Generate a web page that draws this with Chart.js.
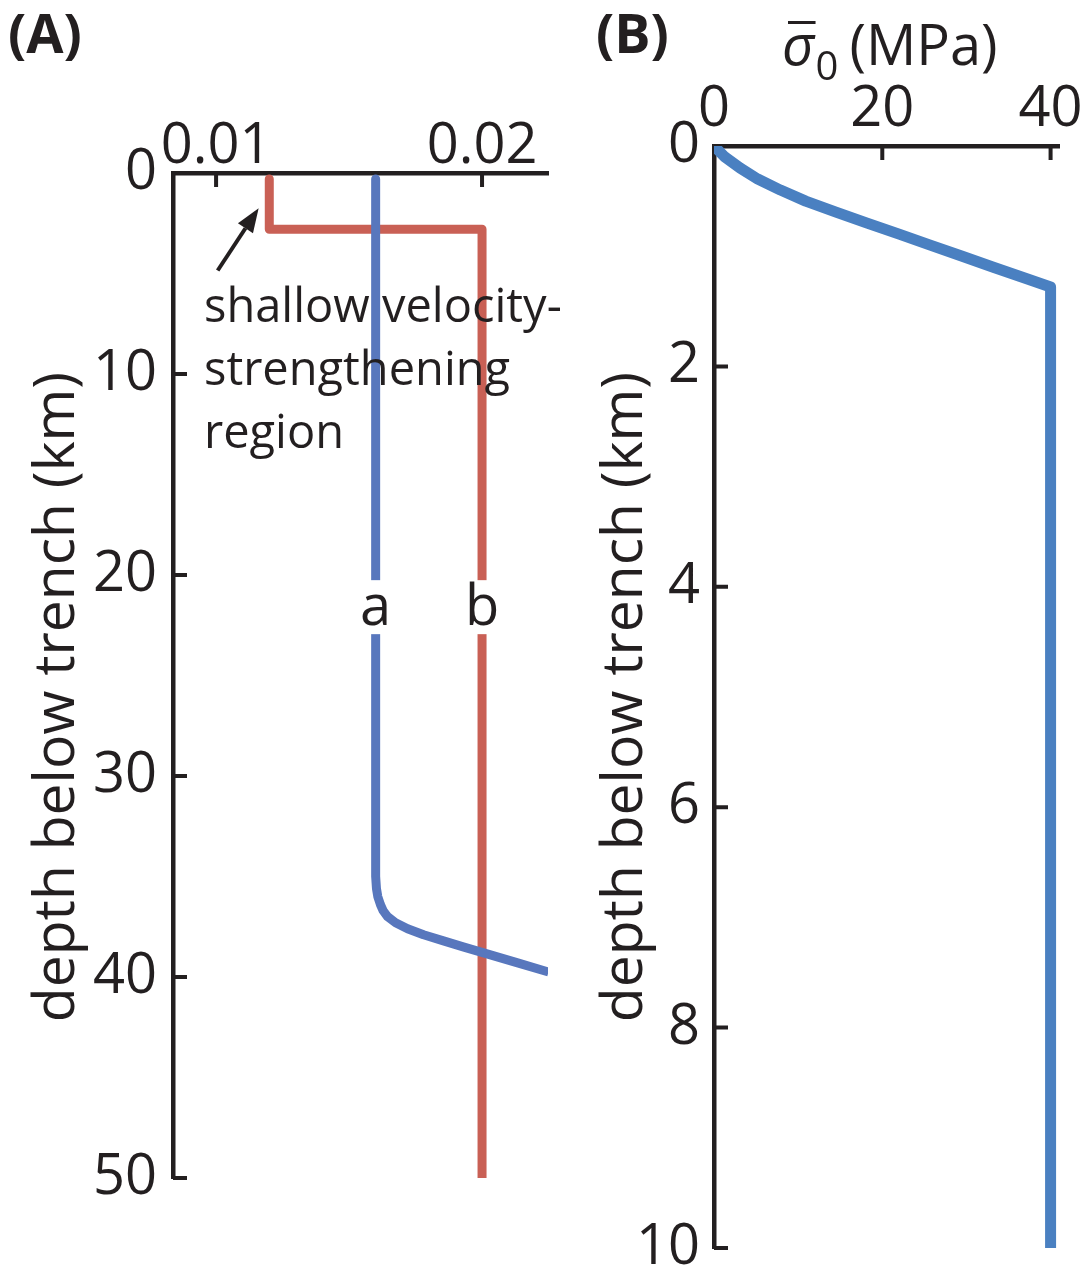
<!DOCTYPE html>
<html>
<head>
<meta charset="utf-8">
<script src="https://cdn.jsdelivr.net/npm/chart.js@4.4.1/dist/chart.umd.min.js"></script>
<style>
  html, body { margin: 0; padding: 0; background: #fff; }
  #wrap { position: relative; width: 1086px; height: 1274px; }
  canvas { position: absolute; top: 0; }
  #chartA { left: 0; }
  #chartB { left: 590px; }
</style>
</head>
<body>
<div id="wrap">
  <canvas id="chartA" width="590" height="1274"></canvas>
  <canvas id="chartB" width="496" height="1274"></canvas>
</div>
<script>
// ---- panel A: rate-and-state parameters a, b against depth (km) ----
const depthA = [0.3, 35.0, 35.6, 36.0, 36.4, 36.7, 37.0, 37.3, 37.6, 37.9, 38.2, 38.5, 38.8, 39.3, 39.75, 40.2];
const paramA = [0.016, 0.016, 0.01603, 0.01608, 0.01618, 0.01628, 0.01645, 0.01675, 0.0172, 0.0178, 0.01855, 0.01929, 0.02006, 0.02134, 0.0225, 0.02366];
const depthB = [0.3, 2.8, 2.8, 50];
const paramB = [0.012, 0.012, 0.020, 0.020];
const ticksAx = [0.01, 0.02];
const ticksAy = [0, 10, 20, 30, 40, 50];

// ---- panel B: effective normal stress (MPa) against depth (km) ----
const depthS = [0, 0.1, 0.2, 0.3, 0.4, 0.5, 0.6, 0.7, 0.8, 0.9, 1.0, 1.1, 1.2, 1.28, 10];
const sigmaS = [0, 1.3, 3.1, 5.2, 7.9, 10.9, 14.5, 18.2, 22.0, 25.7, 29.5, 33.2, 37.0, 40, 40];
const ticksBx = [0, 20, 40];
const ticksBy = [0, 2, 4, 6, 8, 10];

const INK = '#231f20';
const BLUE_A = '#5877bd';
const BLUE_B = '#4a80c1';
const RED = '#c96055';
const FONT = '"Open Sans", "Noto Sans", sans-serif';
const TICK_FONT = { family: FONT, size: 56 };

const toPoints = (xs, ys) => xs.map((v, i) => ({ x: v, y: ys[i] }));

// ticks drawn pointing into the plot area
const inwardTicks = {
  id: 'inwardTicks',
  beforeDatasetsDraw(chart) {
    const { ctx, chartArea: ca, scales: { x, y } } = chart;
    ctx.save();
    ctx.strokeStyle = INK;
    ctx.lineWidth = 4;
    ctx.beginPath();
    x.ticks.forEach(t => {
      const px = x.getPixelForValue(t.value);
      ctx.moveTo(px, ca.top);
      ctx.lineTo(px, ca.top + 14);
    });
    y.ticks.forEach(t => {
      const py = y.getPixelForValue(t.value);
      ctx.moveTo(ca.left, py);
      ctx.lineTo(ca.left + 14, py);
    });
    ctx.stroke();
    ctx.restore();
  }
};

function depthTitle(ctx, cx, cy) {
  ctx.save();
  ctx.translate(cx, cy);
  ctx.rotate(-Math.PI / 2);
  ctx.font = '57px ' + FONT;
  ctx.fillStyle = INK;
  ctx.textAlign = 'center';
  ctx.textBaseline = 'alphabetic';
  ctx.fillText('depth below trench (km)', 0, 0);
  ctx.restore();
}

// curve names a / b sitting in a white gap on each line
const curveNames = {
  id: 'curveNames',
  afterDatasetsDraw(chart) {
    const { ctx, scales: { x, y } } = chart;
    const py = y.getPixelForValue(21.6);
    const names = [['a', paramA[0]], ['b', paramB[paramB.length - 1]]];
    ctx.save();
    ctx.font = '56px ' + FONT;
    ctx.textAlign = 'center';
    ctx.textBaseline = 'middle';
    names.forEach(([s, v]) => {
      const px = x.getPixelForValue(v);
      ctx.fillStyle = '#fff';
      ctx.fillRect(px - 20, py - 27, 40, 54);
      ctx.fillStyle = INK;
      ctx.fillText(s, px, py + 2);
    });
    ctx.restore();
  }
};

const panelAText = {
  id: 'panelAText',
  afterDraw(chart) {
    const { ctx, scales: { x, y } } = chart;
    ctx.save();
    ctx.fillStyle = INK;
    ctx.font = 'bold 54px ' + FONT;
    ctx.textBaseline = 'alphabetic';
    ctx.fillText('(A)', 8, 53);

    ctx.font = '47px ' + FONT;
    ['shallow velocity-', 'strengthening', 'region'].forEach((s, i) => {
      ctx.fillText(s, 204, 322 + i * 63);
    });

    // arrow pointing at the shallow segment of b
    const tipX = x.getPixelForValue(0.0116), tipY = y.getPixelForValue(1.75);
    const tailX = x.getPixelForValue(0.01006), tailY = y.getPixelForValue(4.85);
    const ang = Math.atan2(tipY - tailY, tipX - tailX);
    const head = 24, half = 9;
    const bx = tipX - head * Math.cos(ang), by = tipY - head * Math.sin(ang);
    ctx.strokeStyle = INK;
    ctx.lineWidth = 4;
    ctx.beginPath();
    ctx.moveTo(tailX, tailY);
    ctx.lineTo(bx, by);
    ctx.stroke();
    ctx.beginPath();
    ctx.moveTo(tipX, tipY);
    ctx.lineTo(bx + half * Math.sin(ang), by - half * Math.cos(ang));
    ctx.lineTo(bx - half * Math.sin(ang), by + half * Math.cos(ang));
    ctx.closePath();
    ctx.fill();
    ctx.restore();

    depthTitle(ctx, 74, 697);
  }
};

const panelBText = {
  id: 'panelBText',
  afterDraw(chart) {
    const { ctx } = chart;
    ctx.save();
    ctx.fillStyle = INK;
    ctx.font = 'bold 54px ' + FONT;
    ctx.textBaseline = 'alphabetic';
    ctx.fillText('(B)', 6, 53);

    // x title: sigma-bar with subscript 0, then units
    ctx.font = 'italic 56px ' + FONT;
    const sx = 192, base = 65;
    ctx.fillText('σ', sx, base);
    const sw = ctx.measureText('σ').width;
    ctx.fillRect(sx + 6, 21, sw - 5, 3);
    ctx.font = '40px ' + FONT;
    ctx.fillText('0', sx + sw + 1, base + 15);
    const zw = ctx.measureText('0').width;
    ctx.font = '56px ' + FONT;
    ctx.fillText('(MPa)', sx + sw + zw + 12, base);
    ctx.restore();

    depthTitle(ctx, 52, 697);
  }
};

function fixedBox(size, horizontal) {
  return s => {
    if (horizontal) s.height = size; else s.width = size;
    s.paddingLeft = 0; s.paddingRight = 0; s.paddingTop = 0; s.paddingBottom = 0;
  };
}

const axisBase = {
  type: 'linear',
  grid: { display: false, drawTicks: false },
  border: { display: true, color: INK, width: 4.5 }
};

new Chart(document.getElementById('chartA'), {
  type: 'scatter',
  data: {
    datasets: [
      { data: toPoints(paramA, depthA), showLine: true, borderColor: BLUE_A, borderWidth: 9,
        pointRadius: 0, borderJoinStyle: 'round', clip: 0 },
      { data: toPoints(paramB, depthB), showLine: true, borderColor: RED, borderWidth: 9,
        pointRadius: 0, borderJoinStyle: 'round', clip: 0 }
    ]
  },
  options: {
    responsive: false,
    animation: false,
    layout: { padding: { left: 0, top: 0, right: 42, bottom: 96 } },
    plugins: { legend: { display: false }, tooltip: { enabled: false } },
    scales: {
      x: {
        ...axisBase, position: 'top', min: 0.00838, max: 0.02248,
        afterBuildTicks: s => { s.ticks = ticksAx.map(v => ({ value: v })); },
        ticks: { font: TICK_FONT, color: INK, padding: -8, maxRotation: 0, callback: v => v.toFixed(2) },
        afterFit: fixedBox(173, true)
      },
      y: {
        ...axisBase, reverse: true, min: 0, max: 50,
        afterBuildTicks: s => { s.ticks = ticksAy.map(v => ({ value: v })); },
        ticks: { font: TICK_FONT, color: INK, padding: 16 },
        afterFit: fixedBox(173, false)
      }
    }
  },
  plugins: [inwardTicks, curveNames, panelAText]
});

new Chart(document.getElementById('chartB'), {
  type: 'scatter',
  data: {
    datasets: [
      { data: toPoints(sigmaS, depthS), showLine: true, borderColor: BLUE_B, borderWidth: 11,
        pointRadius: 0, borderJoinStyle: 'round' }
    ]
  },
  options: {
    responsive: false,
    animation: false,
    layout: { padding: { left: 0, top: 0, right: 496 - 469, bottom: 1274 - 1248 } },
    plugins: { legend: { display: false }, tooltip: { enabled: false } },
    scales: {
      x: {
        ...axisBase, position: 'top', min: 0, max: 41,
        afterBuildTicks: s => { s.ticks = ticksBx.map(v => ({ value: v })); },
        ticks: { font: TICK_FONT, color: INK, padding: 2, maxRotation: 0 },
        afterFit: fixedBox(146, true)
      },
      y: {
        ...axisBase, reverse: true, min: 0, max: 10,
        afterBuildTicks: s => { s.ticks = ticksBy.map(v => ({ value: v })); },
        ticks: { font: TICK_FONT, color: INK, padding: 14 },
        afterFit: fixedBox(124, false)
      }
    }
  },
  plugins: [inwardTicks, panelBText]
});
</script>
</body>
</html>
